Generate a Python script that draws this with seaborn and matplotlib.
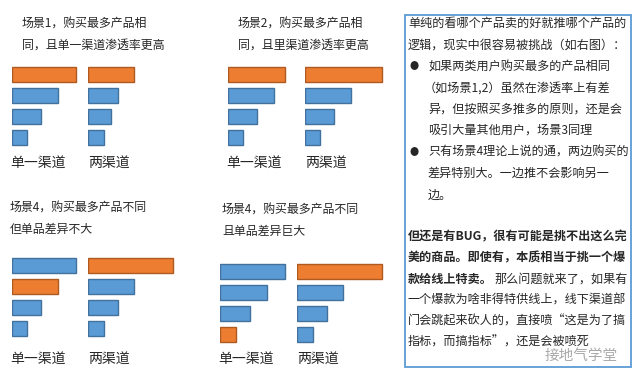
import pandas as pd
import matplotlib.pyplot as plt
from matplotlib.patches import Rectangle
import seaborn as sns

# 数据：每组四个产品的渗透率（按图中条形长度估计）
groups = ['单一渠道', '两渠道']
scene1_single = [64, 46, 29, 15]
scene1_dual = [46, 30, 23, 16]
scene2_single = [57, 46, 29, 15]
scene2_dual = [77, 46, 29, 15]
scene3_single = [64, 46, 29, 15]
scene3_dual = [85, 46, 30, 16]
scene4_single = [65, 47, 30, 16]
scene4_dual = [85, 46, 30, 16]
# 购买最多产品的位置（橙色）
scene1_top = [0, 0]
scene2_top = [0, 0]
scene3_top = [1, 0]
scene4_top = [3, 0]

titles = [
    ['场景1，购买最多产品相', '同，且单一渠道渗透率更高'],
    ['场景2，购买最多产品相', '同，且里渠道渗透率更高'],
    ['场景4，购买最多产品不同', '但单品差异不大'],
    ['场景4，购买最多产品不同', '且单品差异巨大'],
]

ORANGE, ORANGE_EDGE = '#ED7D31', '#AE5A21'
BLUE, BLUE_EDGE = '#5B9BD5', '#41719C'

sns.set_theme(style='white')
plt.rcParams['font.family'] = ['Noto Sans CJK SC', 'DejaVu Sans']

W, H = 637, 378
fig = plt.figure(figsize=(W / 100, H / 100), dpi=100)


def px(x, y):
    return x / W, 1 - y / H


def draw_group(values, top_idx, x0, y_top):
    # 每根条高 15px，间距 21px
    ax = fig.add_axes([x0 / W, 1 - (y_top - 3 + 84) / H, 100 / W, 84 / H])
    df = pd.DataFrame({
        'rank': ['1', '2', '3', '4'],
        'value': values,
        'kind': ['top' if i == top_idx else 'other' for i in range(4)],
    })
    sns.barplot(data=df, x='value', y='rank', hue='kind', orient='h',
                palette={'top': ORANGE, 'other': BLUE}, saturation=1,
                dodge=False, legend=False, width=15 / 21, ax=ax)
    for p in ax.patches:
        fc = p.get_facecolor()
        is_orange = abs(fc[0] - 0xED / 255) < 0.02
        p.set_edgecolor(ORANGE_EDGE if is_orange else BLUE_EDGE)
        p.set_linewidth(1.0)
    ax.set_xlim(0, 100)
    ax.axis('off')


scenes = [
    (scene1_single, scene1_dual, scene1_top, (12, 88), 67, (22, 24), 163),
    (scene2_single, scene2_dual, scene2_top, (228, 305), 67, (238, 24), 163),
    (scene3_single, scene3_dual, scene3_top, (12, 88), 258, (10, 208), 359),
    (scene4_single, scene4_dual, scene4_top, (220, 297), 264, (222, 210), 359),
]

for (single, dual, tops, xs, ytop, tpos, ylab), title in zip(scenes, titles):
    draw_group(single, tops[0], xs[0], ytop)
    draw_group(dual, tops[1], xs[1], ytop)
    fig.text(*px(tpos[0], tpos[1]), title[0], fontsize=8.6, va='center', ha='left')
    fig.text(*px(tpos[0], tpos[1] + 21), title[1], fontsize=8.6, va='center', ha='left')
    fig.text(*px(xs[0] - 2, ylab), groups[0], fontsize=10, va='center', ha='left')
    fig.text(*px(xs[1], ylab), groups[1], fontsize=10, va='center', ha='left')

# 右侧说明文字框
fig.add_artist(Rectangle(px(405, 367), 226 / W, 352 / H, transform=fig.transFigure,
                         fill=False, edgecolor=BLUE, linewidth=1.3))

fs = 8.7
plain = [
    (408, 23, '单纯的看哪个产品卖的好就推哪个产品的'),
    (408, 45, '逻辑，现实中很容易被挑战（如右图）：'),
    (428, 67, '如果两类用户购买最多的产品相同'),
    (424, 88, '（如场景1,2）虽然在渗透率上有差'),
    (428, 109, '异，但按照买多推多的原则，还是会'),
    (428, 130, '吸引大量其他用户，场景3同理'),
    (428, 152, '只有场景4理论上说的通，两边购买的'),
    (428, 173, '差异特别大。一边推不会影响另一'),
    (428, 195, '边。'),
    (494, 279, '那么问题就来了，如果有'),
    (408, 300, '一个爆款为啥非得特供线上，线下渠道部'),
    (408, 321, '门会跳起来砍人的，直接喷“这是为了搞'),
    (408, 342, '指标，而搞指标”，还是会被喷死'),
]
bold = [
    (408, 237, '但还是有BUG，很有可能是挑不出这么完'),
    (408, 258, '美的商品。即使有，本质相当于挑一个爆'),
    (408, 279, '款给线上特卖。'),
]
for x, y, s in plain:
    fig.text(*px(x, y), s, fontsize=fs, va='center', ha='left')
for x, y, s in bold:
    fig.text(*px(x, y), s, fontsize=fs, va='center', ha='left', fontweight='bold')
for y in (67, 152):
    fig.text(*px(410, y), '●', fontsize=6.5, va='center', ha='left')

# 水印
fig.text(*px(545, 356), '接地气学堂', fontsize=10.5, va='center', ha='left',
         color='#a0a0a0', alpha=0.9)

plt.savefig('out.png', dpi=100)
plt.close()
